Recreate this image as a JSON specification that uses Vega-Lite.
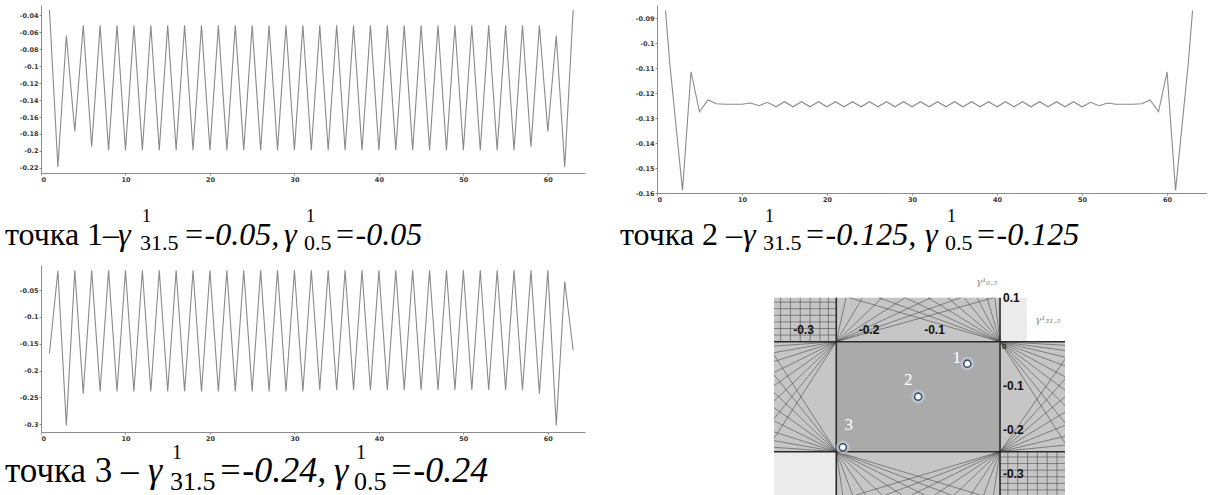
{
"$schema": "https://vega.github.io/schema/vega-lite/v6.json",
"background": "white",
"padding": {"left": 5, "top": 5, "right": 0, "bottom": 0},
"config": {
 "view": {"stroke": null},
 "axis": {"domainColor": "#8c8c8c", "tickColor": "#8c8c8c", "tickSize": 2, "labelFont": "DejaVu Sans", "labelFontSize": 6.5, "labelFontWeight": "bold", "labelColor": "#3a3a3a", "labelPadding": 1, "grid": false}
},
"datasets": {
 "p1": [
  {"x":1,"y":-0.034},{"x":2,"y":-0.219},{"x":3,"y":-0.064},{"x":4,"y":-0.177},{"x":5,"y":-0.052},{"x":6,"y":-0.195},{"x":7,"y":-0.052},{"x":8,"y":-0.199},{"x":9,"y":-0.052},{"x":10,"y":-0.199},
  {"x":11,"y":-0.052},{"x":12,"y":-0.199},{"x":13,"y":-0.052},{"x":14,"y":-0.199},{"x":15,"y":-0.052},{"x":16,"y":-0.199},{"x":17,"y":-0.052},{"x":18,"y":-0.199},{"x":19,"y":-0.052},{"x":20,"y":-0.199},
  {"x":21,"y":-0.052},{"x":22,"y":-0.199},{"x":23,"y":-0.052},{"x":24,"y":-0.199},{"x":25,"y":-0.052},{"x":26,"y":-0.199},{"x":27,"y":-0.052},{"x":28,"y":-0.199},{"x":29,"y":-0.052},{"x":30,"y":-0.199},
  {"x":31,"y":-0.052},{"x":32,"y":-0.199},{"x":33,"y":-0.052},{"x":34,"y":-0.199},{"x":35,"y":-0.052},{"x":36,"y":-0.199},{"x":37,"y":-0.052},{"x":38,"y":-0.199},{"x":39,"y":-0.052},{"x":40,"y":-0.199},
  {"x":41,"y":-0.052},{"x":42,"y":-0.199},{"x":43,"y":-0.052},{"x":44,"y":-0.199},{"x":45,"y":-0.052},{"x":46,"y":-0.199},{"x":47,"y":-0.052},{"x":48,"y":-0.199},{"x":49,"y":-0.052},{"x":50,"y":-0.199},
  {"x":51,"y":-0.052},{"x":52,"y":-0.199},{"x":53,"y":-0.052},{"x":54,"y":-0.199},{"x":55,"y":-0.052},{"x":56,"y":-0.199},{"x":57,"y":-0.052},{"x":58,"y":-0.195},{"x":59,"y":-0.052},{"x":60,"y":-0.177},
  {"x":61,"y":-0.064},{"x":62,"y":-0.219},{"x":63,"y":-0.034}
 ],
 "p2": [
  {"x":1,"y":-0.087},{"x":1.5,"y":-0.108},{"x":3,"y":-0.159},{"x":4,"y":-0.1115},{"x":5,"y":-0.1275},{"x":6,"y":-0.1228},{"x":7,"y":-0.1243},{"x":8,"y":-0.1245},{"x":9,"y":-0.1245},{"x":10,"y":-0.1245},
  {"x":11,"y":-0.124},{"x":12,"y":-0.1251},{"x":13,"y":-0.1237},{"x":14,"y":-0.1255},{"x":15,"y":-0.1235},{"x":16,"y":-0.1255},{"x":17,"y":-0.1235},{"x":18,"y":-0.1255},{"x":19,"y":-0.1235},{"x":20,"y":-0.1255},
  {"x":21,"y":-0.1235},{"x":22,"y":-0.1255},{"x":23,"y":-0.1235},{"x":24,"y":-0.1255},{"x":25,"y":-0.1235},{"x":26,"y":-0.1255},{"x":27,"y":-0.1235},{"x":28,"y":-0.1255},{"x":29,"y":-0.1235},{"x":30,"y":-0.1255},
  {"x":31,"y":-0.1235},{"x":32,"y":-0.1255},{"x":33,"y":-0.1235},{"x":34,"y":-0.1255},{"x":35,"y":-0.1235},{"x":36,"y":-0.1255},{"x":37,"y":-0.1235},{"x":38,"y":-0.1255},{"x":39,"y":-0.1235},{"x":40,"y":-0.1255},
  {"x":41,"y":-0.1235},{"x":42,"y":-0.1255},{"x":43,"y":-0.1235},{"x":44,"y":-0.1255},{"x":45,"y":-0.1235},{"x":46,"y":-0.1255},{"x":47,"y":-0.1235},{"x":48,"y":-0.1255},{"x":49,"y":-0.1235},{"x":50,"y":-0.1255},
  {"x":51,"y":-0.1237},{"x":52,"y":-0.1251},{"x":53,"y":-0.124},{"x":54,"y":-0.1245},{"x":55,"y":-0.1245},{"x":56,"y":-0.1245},{"x":57,"y":-0.1243},{"x":58,"y":-0.1228},{"x":59,"y":-0.1275},{"x":60,"y":-0.1115},
  {"x":61,"y":-0.159},{"x":62.5,"y":-0.108},{"x":63,"y":-0.087}
 ],
 "p3": [
  {"x":1,"y":-0.168},{"x":2,"y":-0.014},{"x":3,"y":-0.302},{"x":4,"y":-0.013},{"x":5,"y":-0.243},{"x":6,"y":-0.013},{"x":7,"y":-0.239},{"x":8,"y":-0.013},{"x":9,"y":-0.239},{"x":10,"y":-0.013},
  {"x":11,"y":-0.239},{"x":12,"y":-0.013},{"x":13,"y":-0.239},{"x":14,"y":-0.013},{"x":15,"y":-0.239},{"x":16,"y":-0.013},{"x":17,"y":-0.239},{"x":18,"y":-0.013},{"x":19,"y":-0.239},{"x":20,"y":-0.013},
  {"x":21,"y":-0.239},{"x":22,"y":-0.013},{"x":23,"y":-0.239},{"x":24,"y":-0.013},{"x":25,"y":-0.239},{"x":26,"y":-0.013},{"x":27,"y":-0.239},{"x":28,"y":-0.013},{"x":29,"y":-0.239},{"x":30,"y":-0.013},
  {"x":31,"y":-0.239},{"x":32,"y":-0.013},{"x":33,"y":-0.236},{"x":34,"y":-0.013},{"x":35,"y":-0.236},{"x":36,"y":-0.013},{"x":37,"y":-0.236},{"x":38,"y":-0.013},{"x":39,"y":-0.236},{"x":40,"y":-0.013},
  {"x":41,"y":-0.236},{"x":42,"y":-0.013},{"x":43,"y":-0.236},{"x":44,"y":-0.013},{"x":45,"y":-0.236},{"x":46,"y":-0.013},{"x":47,"y":-0.236},{"x":48,"y":-0.013},{"x":49,"y":-0.236},{"x":50,"y":-0.013},
  {"x":51,"y":-0.236},{"x":52,"y":-0.013},{"x":53,"y":-0.236},{"x":54,"y":-0.013},{"x":55,"y":-0.236},{"x":56,"y":-0.013},{"x":57,"y":-0.236},{"x":58,"y":-0.013},{"x":59,"y":-0.243},{"x":60,"y":-0.013},
  {"x":61,"y":-0.302},{"x":62,"y":-0.034},{"x":63,"y":-0.162}
 ],
 "reg": [
  {"r":"hatch","x":-0.345,"x2":0,"y":0,"y2":0.1},
  {"r":"hatch","x":-0.345,"x2":-0.25,"y":-0.25,"y2":0},
  {"r":"hatch","x":0,"x2":0.0992,"y":-0.3484,"y2":0},
  {"r":"hatch","x":-0.25,"x2":0,"y":-0.3484,"y2":-0.25},
  {"r":"light","x":0,"x2":0.041,"y":0,"y2":0.1},
  {"r":"light","x":-0.345,"x2":-0.25,"y":-0.3484,"y2":-0.25},
  {"r":"stable","x":-0.25,"x2":0,"y":-0.25,"y2":0}
 ],
 "hat": [
  {"x":0,"y":0,"x2":-0.008,"y2":0.1},{"x":0,"y":0,"x2":-0.02,"y2":0.1},{"x":0,"y":0,"x2":-0.035,"y2":0.1},{"x":0,"y":0,"x2":-0.055,"y2":0.1},{"x":0,"y":0,"x2":-0.08,"y2":0.1},{"x":0,"y":0,"x2":-0.11,"y2":0.1},{"x":0,"y":0,"x2":-0.145,"y2":0.1},{"x":0,"y":0,"x2":-0.185,"y2":0.1},{"x":0,"y":0,"x2":-0.23,"y2":0.1},
  {"x":-0.25,"y":0,"x2":-0.235,"y2":0.1},{"x":-0.25,"y":0,"x2":-0.21,"y2":0.1},{"x":-0.25,"y":0,"x2":-0.18,"y2":0.1},{"x":-0.25,"y":0,"x2":-0.145,"y2":0.1},{"x":-0.25,"y":0,"x2":-0.105,"y2":0.1},{"x":-0.25,"y":0,"x2":-0.06,"y2":0.1},{"x":-0.25,"y":0,"x2":-0.01,"y2":0.1},
  {"x":-0.335,"y":0,"x2":-0.335,"y2":0.1},{"x":-0.32,"y":0,"x2":-0.32,"y2":0.1},{"x":-0.305,"y":0,"x2":-0.305,"y2":0.1},{"x":-0.29,"y":0,"x2":-0.29,"y2":0.1},{"x":-0.275,"y":0,"x2":-0.275,"y2":0.1},{"x":-0.262,"y":0,"x2":-0.262,"y2":0.1},
  {"x":-0.345,"y":0.015,"x2":-0.25,"y2":0.015},{"x":-0.345,"y":0.03,"x2":-0.25,"y2":0.03},{"x":-0.345,"y":0.045,"x2":-0.25,"y2":0.045},{"x":-0.345,"y":0.06,"x2":-0.25,"y2":0.06},{"x":-0.345,"y":0.075,"x2":-0.25,"y2":0.075},{"x":-0.345,"y":0.09,"x2":-0.25,"y2":0.09},
  {"x":-0.25,"y":-0.25,"x2":-0.345,"y2":-0.24},{"x":-0.25,"y":-0.25,"x2":-0.345,"y2":-0.225},{"x":-0.25,"y":-0.25,"x2":-0.345,"y2":-0.205},{"x":-0.25,"y":-0.25,"x2":-0.345,"y2":-0.18},{"x":-0.25,"y":-0.25,"x2":-0.345,"y2":-0.15},{"x":-0.25,"y":-0.25,"x2":-0.345,"y2":-0.115},{"x":-0.25,"y":-0.25,"x2":-0.345,"y2":-0.075},{"x":-0.25,"y":-0.25,"x2":-0.345,"y2":-0.03},
  {"x":-0.25,"y":0,"x2":-0.345,"y2":-0.01},{"x":-0.25,"y":0,"x2":-0.345,"y2":-0.025},{"x":-0.25,"y":0,"x2":-0.345,"y2":-0.045},{"x":-0.25,"y":0,"x2":-0.345,"y2":-0.07},{"x":-0.25,"y":0,"x2":-0.345,"y2":-0.1},{"x":-0.25,"y":0,"x2":-0.345,"y2":-0.135},{"x":-0.25,"y":0,"x2":-0.345,"y2":-0.175},{"x":-0.25,"y":0,"x2":-0.345,"y2":-0.22},
  {"x":0,"y":0,"x2":0.0992,"y2":-0.008},{"x":0,"y":0,"x2":0.0992,"y2":-0.02},{"x":0,"y":0,"x2":0.0992,"y2":-0.035},{"x":0,"y":0,"x2":0.0992,"y2":-0.055},{"x":0,"y":0,"x2":0.0992,"y2":-0.08},{"x":0,"y":0,"x2":0.0992,"y2":-0.11},{"x":0,"y":0,"x2":0.0992,"y2":-0.145},{"x":0,"y":0,"x2":0.0992,"y2":-0.185},{"x":0,"y":0,"x2":0.0992,"y2":-0.23},
  {"x":0,"y":-0.25,"x2":0.0992,"y2":-0.235},{"x":0,"y":-0.25,"x2":0.0992,"y2":-0.215},{"x":0,"y":-0.25,"x2":0.0992,"y2":-0.19},{"x":0,"y":-0.25,"x2":0.0992,"y2":-0.16},{"x":0,"y":-0.25,"x2":0.0992,"y2":-0.125},{"x":0,"y":-0.25,"x2":0.0992,"y2":-0.085},{"x":0,"y":-0.25,"x2":0.0992,"y2":-0.04},
  {"x":-0.25,"y":-0.25,"x2":-0.24,"y2":-0.3484},{"x":-0.25,"y":-0.25,"x2":-0.225,"y2":-0.3484},{"x":-0.25,"y":-0.25,"x2":-0.205,"y2":-0.3484},{"x":-0.25,"y":-0.25,"x2":-0.18,"y2":-0.3484},{"x":-0.25,"y":-0.25,"x2":-0.15,"y2":-0.3484},{"x":-0.25,"y":-0.25,"x2":-0.115,"y2":-0.3484},{"x":-0.25,"y":-0.25,"x2":-0.075,"y2":-0.3484},{"x":-0.25,"y":-0.25,"x2":-0.03,"y2":-0.3484},
  {"x":0,"y":-0.25,"x2":-0.01,"y2":-0.3484},{"x":0,"y":-0.25,"x2":-0.025,"y2":-0.3484},{"x":0,"y":-0.25,"x2":-0.045,"y2":-0.3484},{"x":0,"y":-0.25,"x2":-0.07,"y2":-0.3484},{"x":0,"y":-0.25,"x2":-0.1,"y2":-0.3484},{"x":0,"y":-0.25,"x2":-0.135,"y2":-0.3484},{"x":0,"y":-0.25,"x2":-0.175,"y2":-0.3484},{"x":0,"y":-0.25,"x2":-0.22,"y2":-0.3484},
  {"x":0.012,"y":-0.25,"x2":0.012,"y2":-0.3484},{"x":0.027,"y":-0.25,"x2":0.027,"y2":-0.3484},{"x":0.042,"y":-0.25,"x2":0.042,"y2":-0.3484},{"x":0.057,"y":-0.25,"x2":0.057,"y2":-0.3484},{"x":0.072,"y":-0.25,"x2":0.072,"y2":-0.3484},{"x":0.087,"y":-0.25,"x2":0.087,"y2":-0.3484},
  {"x":0,"y":-0.262,"x2":0.0992,"y2":-0.262},{"x":0,"y":-0.277,"x2":0.0992,"y2":-0.277},{"x":0,"y":-0.292,"x2":0.0992,"y2":-0.292},{"x":0,"y":-0.307,"x2":0.0992,"y2":-0.307},{"x":0,"y":-0.322,"x2":0.0992,"y2":-0.322},{"x":0,"y":-0.337,"x2":0.0992,"y2":-0.337}
 ],
 "edge": [
  {"x":0,"y":0.1,"x2":0,"y2":-0.3484},
  {"x":-0.345,"y":0,"x2":0.0992,"y2":0},
  {"x":-0.25,"y":0.1,"x2":-0.25,"y2":-0.3484},
  {"x":-0.345,"y":-0.25,"x2":0.0992,"y2":-0.25}
 ],
 "pts": [
  {"label":"1","g31":-0.05,"g05":-0.05,"lx":-0.066,"ly":-0.038},
  {"label":"2","g31":-0.125,"g05":-0.125,"lx":-0.14,"ly":-0.087},
  {"label":"3","g31":-0.24,"g05":-0.24,"lx":-0.231,"ly":-0.189}
 ],
 "vlab": [{"t":"0.1","v":0.1},{"t":"-0.1","v":-0.1},{"t":"-0.2","v":-0.2},{"t":"-0.3","v":-0.3}],
 "hlab": [{"t":"-0.3","v":-0.3},{"t":"-0.2","v":-0.2},{"t":"-0.1","v":-0.1}],
 "names": [{"t":"γ¹₀.₅","nx":-0.02,"ny":0.135},{"t":"γ¹₃₁.₅","nx":0.073,"ny":0.05}],
 "cap1": [
  {"k":"m","t":"точка 1–","cx":5,"cy":245},
  {"k":"i","t":"γ","cx":118,"cy":245},
  {"k":"p","t":"1","cx":142,"cy":245},
  {"k":"b","t":"31.5","cx":140,"cy":245},
  {"k":"i","t":"=-0.05,","cx":183,"cy":245},
  {"k":"i","t":"γ","cx":284,"cy":245},
  {"k":"p","t":"1","cx":306,"cy":245},
  {"k":"b","t":"0.5","cx":304,"cy":245},
  {"k":"i","t":"=-0.05","cx":334,"cy":245}
 ],
 "cap2": [
  {"k":"m","t":"точка 2 –","cx":620,"cy":245},
  {"k":"i","t":"γ","cx":743,"cy":245},
  {"k":"p","t":"1","cx":765,"cy":245},
  {"k":"b","t":"31.5","cx":763,"cy":245},
  {"k":"i","t":"=-0.125,","cx":804,"cy":245},
  {"k":"i","t":"γ","cx":925,"cy":245},
  {"k":"p","t":"1","cx":947,"cy":245},
  {"k":"b","t":"0.5","cx":945,"cy":245},
  {"k":"i","t":"=-0.125","cx":975,"cy":245}
 ],
 "cap3": [
  {"k":"m","t":"точка 3 –","cx":5,"cy":482},
  {"k":"i","t":"γ","cx":148,"cy":482},
  {"k":"p","t":"1","cx":172,"cy":482},
  {"k":"b","t":"31.5","cx":170,"cy":482},
  {"k":"i","t":"=-0.24,","cx":218,"cy":482},
  {"k":"i","t":"γ","cx":334,"cy":482},
  {"k":"p","t":"1","cx":356,"cy":482},
  {"k":"b","t":"0.5","cx":354,"cy":482},
  {"k":"i","t":"=-0.24","cx":389,"cy":482}
 ]
},
"columns": 2,
"align": "none",
"bounds": "flush",
"spacing": {"row": 72, "column": 72},
"concat": [
 {
  "width": 544, "height": 168,
  "resolve": {"scale": {"x": "independent", "y": "independent"}},
  "layer": [
   {
    "data": {"name": "p1"},
    "mark": {"type": "line", "color": "#8a8a8a", "strokeWidth": 1.1},
    "encoding": {
     "x": {"field": "x", "type": "quantitative", "scale": {"domain": [0, 64.4], "nice": false, "zero": false}, "axis": {"values": [0,10,20,30,40,50,60], "title": null}},
     "y": {"field": "y", "type": "quantitative", "scale": {"domain": [-0.226, -0.028], "nice": false, "zero": false}, "axis": {"values": [-0.22,-0.2,-0.18,-0.16,-0.14,-0.12,-0.1,-0.08,-0.06,-0.04], "title": null, "labelExpr": "replace(format(datum.value, '.2~f'), '−', '-')"}}
    }
   },
   {
    "data": {"name": "cap1"},
    "encoding": {
     "x": {"field": "cx", "type": "quantitative", "scale": {"domain": [41, 585], "nice": false, "zero": false}, "axis": null},
     "y": {"field": "cy", "type": "quantitative", "scale": {"domain": [173, 5], "nice": false, "zero": false}, "axis": null},
     "text": {"field": "t"}
    },
    "layer": [
     {"transform": [{"filter": "datum.k == 'm'"}], "mark": {"type": "text", "align": "left", "baseline": "alphabetic", "font": "Liberation Serif", "fontSize": 32, "color": "#000000"}},
     {"transform": [{"filter": "datum.k == 'i'"}], "mark": {"type": "text", "align": "left", "baseline": "alphabetic", "font": "Liberation Serif", "fontStyle": "italic", "fontSize": 32, "color": "#000000"}},
     {"transform": [{"filter": "datum.k == 'p'"}], "mark": {"type": "text", "align": "left", "baseline": "alphabetic", "font": "Liberation Serif", "fontSize": 18, "dy": -23, "color": "#000000"}},
     {"transform": [{"filter": "datum.k == 'b'"}], "mark": {"type": "text", "align": "left", "baseline": "alphabetic", "font": "Liberation Serif", "fontSize": 22, "dy": 5, "color": "#000000"}}
    ]
   }
  ]
 },
 {
  "width": 550, "height": 188,
  "resolve": {"scale": {"x": "independent", "y": "independent"}},
  "layer": [
   {
    "data": {"name": "p2"},
    "mark": {"type": "line", "color": "#8a8a8a", "strokeWidth": 1.1},
    "encoding": {
     "x": {"field": "x", "type": "quantitative", "scale": {"domain": [0, 64.7], "nice": false, "zero": false}, "axis": {"values": [0,10,20,30,40,50,60], "title": null}},
     "y": {"field": "y", "type": "quantitative", "scale": {"domain": [-0.16, -0.0848], "nice": false, "zero": false}, "axis": {"values": [-0.16,-0.15,-0.14,-0.13,-0.12,-0.11,-0.1,-0.09], "title": null, "labelExpr": "replace(format(datum.value, '.2~f'), '−', '-')"}}
    }
   },
   {
    "data": {"name": "cap2"},
    "encoding": {
     "x": {"field": "cx", "type": "quantitative", "scale": {"domain": [657, 1207], "nice": false, "zero": false}, "axis": null},
     "y": {"field": "cy", "type": "quantitative", "scale": {"domain": [193, 5], "nice": false, "zero": false}, "axis": null},
     "text": {"field": "t"}
    },
    "layer": [
     {"transform": [{"filter": "datum.k == 'm'"}], "mark": {"type": "text", "align": "left", "baseline": "alphabetic", "font": "Liberation Serif", "fontSize": 32, "color": "#000000"}},
     {"transform": [{"filter": "datum.k == 'i'"}], "mark": {"type": "text", "align": "left", "baseline": "alphabetic", "font": "Liberation Serif", "fontStyle": "italic", "fontSize": 32, "color": "#000000"}},
     {"transform": [{"filter": "datum.k == 'p'"}], "mark": {"type": "text", "align": "left", "baseline": "alphabetic", "font": "Liberation Serif", "fontSize": 18, "dy": -23, "color": "#000000"}},
     {"transform": [{"filter": "datum.k == 'b'"}], "mark": {"type": "text", "align": "left", "baseline": "alphabetic", "font": "Liberation Serif", "fontSize": 22, "dy": 5, "color": "#000000"}}
    ]
   }
  ]
 },
 {
  "width": 544, "height": 167,
  "resolve": {"scale": {"x": "independent", "y": "independent"}},
  "layer": [
   {
    "data": {"name": "p3"},
    "mark": {"type": "line", "color": "#8a8a8a", "strokeWidth": 1.1},
    "encoding": {
     "x": {"field": "x", "type": "quantitative", "scale": {"domain": [0, 64.4], "nice": false, "zero": false}, "axis": {"values": [0,10,20,30,40,50,60], "title": null}},
     "y": {"field": "y", "type": "quantitative", "scale": {"domain": [-0.3143, -0.0033], "nice": false, "zero": false}, "axis": {"values": [-0.3,-0.25,-0.2,-0.15,-0.1,-0.05], "title": null, "labelExpr": "replace(format(datum.value, '.2~f'), '−', '-')"}}
    }
   },
   {
    "data": {"name": "cap3"},
    "encoding": {
     "x": {"field": "cx", "type": "quantitative", "scale": {"domain": [41, 585], "nice": false, "zero": false}, "axis": null},
     "y": {"field": "cy", "type": "quantitative", "scale": {"domain": [432, 265], "nice": false, "zero": false}, "axis": null},
     "text": {"field": "t"}
    },
    "layer": [
     {"transform": [{"filter": "datum.k == 'm'"}], "mark": {"type": "text", "align": "left", "baseline": "alphabetic", "font": "Liberation Serif", "fontSize": 35, "color": "#000000"}},
     {"transform": [{"filter": "datum.k == 'i'"}], "mark": {"type": "text", "align": "left", "baseline": "alphabetic", "font": "Liberation Serif", "fontStyle": "italic", "fontSize": 36, "color": "#000000"}},
     {"transform": [{"filter": "datum.k == 'p'"}], "mark": {"type": "text", "align": "left", "baseline": "alphabetic", "font": "Liberation Serif", "fontSize": 20, "dy": -23, "color": "#000000"}},
     {"transform": [{"filter": "datum.k == 'b'"}], "mark": {"type": "text", "align": "left", "baseline": "alphabetic", "font": "Liberation Serif", "fontSize": 26, "dy": 8, "color": "#000000"}}
    ]
   }
  ]
 },
 {
  "width": 408, "height": 230,
  "layer": [
   {"data": {"name": "reg"}, "mark": {"type": "rect"}, "encoding": {
     "x": {"field": "x", "type": "quantitative", "scale": {"domain": [-0.5237, 0.0992], "nice": false, "zero": false}, "axis": null},
     "x2": {"field": "x2"},
     "y": {"field": "y", "type": "quantitative", "scale": {"domain": [-0.3484, 0.1743], "nice": false, "zero": false}, "axis": null},
     "y2": {"field": "y2"},
     "color": {"field": "r", "type": "nominal", "scale": {"domain": ["hatch","light","stable"], "range": ["#c6c6c6","#ebebeb","#aaaaaa"]}, "legend": null}}},
   {"data": {"name": "hat"}, "mark": {"type": "rule", "color": "#3c3c3c", "strokeWidth": 0.7, "opacity": 0.75}, "encoding": {
     "x": {"field": "x", "type": "quantitative", "scale": {"domain": [-0.5237, 0.0992], "nice": false, "zero": false}, "axis": null},
     "x2": {"field": "x2"},
     "y": {"field": "y", "type": "quantitative", "scale": {"domain": [-0.3484, 0.1743], "nice": false, "zero": false}, "axis": null},
     "y2": {"field": "y2"}}},
   {"data": {"name": "edge"}, "mark": {"type": "rule", "color": "#2a2a2a", "strokeWidth": 1.6}, "encoding": {
     "x": {"field": "x", "type": "quantitative", "scale": {"domain": [-0.5237, 0.0992], "nice": false, "zero": false}, "axis": null},
     "x2": {"field": "x2"},
     "y": {"field": "y", "type": "quantitative", "scale": {"domain": [-0.3484, 0.1743], "nice": false, "zero": false}, "axis": null},
     "y2": {"field": "y2"}}},
   {"data": {"name": "pts"}, "mark": {"type": "circle", "size": 190, "color": "#c9d6e8", "opacity": 0.55}, "encoding": {
     "x": {"field": "g31", "type": "quantitative", "scale": {"domain": [-0.5237, 0.0992], "nice": false, "zero": false}, "axis": null},
     "y": {"field": "g05", "type": "quantitative", "scale": {"domain": [-0.3484, 0.1743], "nice": false, "zero": false}, "axis": null}}},
   {"data": {"name": "pts"}, "mark": {"type": "circle", "size": 50, "fill": "#ffffff", "stroke": "#3e5570", "strokeWidth": 1.6, "opacity": 1}, "encoding": {
     "x": {"field": "g31", "type": "quantitative", "scale": {"domain": [-0.5237, 0.0992], "nice": false, "zero": false}, "axis": null},
     "y": {"field": "g05", "type": "quantitative", "scale": {"domain": [-0.3484, 0.1743], "nice": false, "zero": false}, "axis": null}}},
   {"data": {"name": "pts"}, "mark": {"type": "text", "color": "#ffffff", "font": "Liberation Serif", "fontSize": 17, "align": "center", "baseline": "middle"}, "encoding": {
     "x": {"field": "lx", "type": "quantitative", "scale": {"domain": [-0.5237, 0.0992], "nice": false, "zero": false}, "axis": null},
     "y": {"field": "ly", "type": "quantitative", "scale": {"domain": [-0.3484, 0.1743], "nice": false, "zero": false}, "axis": null},
     "text": {"field": "label"}}},
   {"data": {"name": "vlab"}, "mark": {"type": "text", "align": "left", "baseline": "middle", "dx": 3, "font": "Liberation Sans", "fontWeight": "bold", "fontSize": 12, "color": "#111111"}, "encoding": {
     "x": {"datum": 0, "type": "quantitative", "scale": {"domain": [-0.5237, 0.0992], "nice": false, "zero": false}, "axis": null},
     "y": {"field": "v", "type": "quantitative", "scale": {"domain": [-0.3484, 0.1743], "nice": false, "zero": false}, "axis": null},
     "text": {"field": "t"}}},
   {"data": {"name": "hlab"}, "mark": {"type": "text", "align": "center", "baseline": "bottom", "dy": -5, "font": "Liberation Sans", "fontWeight": "bold", "fontSize": 12, "color": "#111111"}, "encoding": {
     "x": {"field": "v", "type": "quantitative", "scale": {"domain": [-0.5237, 0.0992], "nice": false, "zero": false}, "axis": null},
     "y": {"datum": 0, "type": "quantitative", "scale": {"domain": [-0.3484, 0.1743], "nice": false, "zero": false}, "axis": null},
     "text": {"field": "t"}}},
   {"data": {"values": [{"t": "0"}]}, "mark": {"type": "text", "align": "left", "baseline": "top", "dx": 2, "dy": 1, "font": "Liberation Sans", "fontWeight": "bold", "fontSize": 8, "color": "#222222"}, "encoding": {
     "x": {"datum": 0, "type": "quantitative", "scale": {"domain": [-0.5237, 0.0992], "nice": false, "zero": false}, "axis": null},
     "y": {"datum": 0, "type": "quantitative", "scale": {"domain": [-0.3484, 0.1743], "nice": false, "zero": false}, "axis": null},
     "text": {"field": "t"}}},
   {"data": {"name": "names"}, "mark": {"type": "text", "align": "center", "baseline": "middle", "font": "DejaVu Serif", "fontStyle": "italic", "fontSize": 10, "color": "#8a8a8a"}, "encoding": {
     "x": {"field": "nx", "type": "quantitative", "scale": {"domain": [-0.5237, 0.0992], "nice": false, "zero": false}, "axis": null},
     "y": {"field": "ny", "type": "quantitative", "scale": {"domain": [-0.3484, 0.1743], "nice": false, "zero": false}, "axis": null},
     "text": {"field": "t"}}}
  ]
 }
]
}
